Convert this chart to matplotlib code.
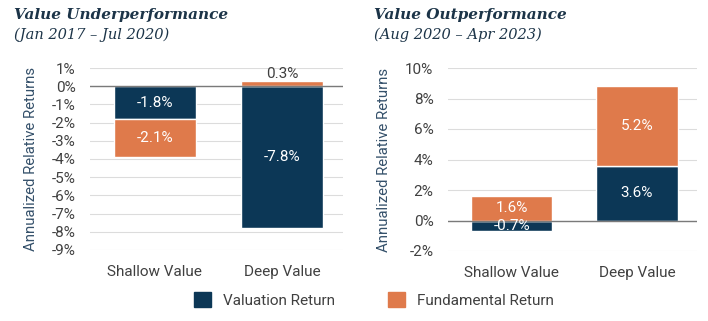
import matplotlib
matplotlib.use("Agg")
import matplotlib.pyplot as plt
from matplotlib.patches import Patch
from matplotlib import font_manager

categories = ["Shallow Value", "Deep Value"]
under_valuation = [-1.8, -7.8]
under_fundamental = [-2.1, 0.3]
out_valuation = [-0.7, 3.6]
out_fundamental = [1.6, 5.2]
under_ticks = [1, 0, -1, -2, -3, -4, -5, -6, -7, -8, -9]
out_ticks = [10, 8, 6, 4, 2, 0, -2]

NAVY = "#0c3756"
ORANGE = "#df7a4b"
TXT = "#404040"
TITLE_C = "#1c3448"

names = {f.name for f in font_manager.fontManager.ttflist}
sans = "Liberation Sans Narrow" if "Liberation Sans Narrow" in names else "Roboto"
plt.rcParams['font.family'] = [sans, 'DejaVu Sans']

fig = plt.figure(figsize=(7.08, 3.21), dpi=100)
axL = fig.add_axes([90/708, 1-250/321, 253/708, 182/321])
axR = fig.add_axes([448/708, 1-251/321, 249/708, 183/321])


def stack(ax, val, fund):
    x = list(range(len(categories)))
    ax.bar(x, val, width=0.65, color=NAVY, edgecolor="white", linewidth=1, zorder=3)
    bottoms = []
    for v, f in zip(val, fund):
        if (v >= 0) == (f >= 0):
            bottoms.append(v)
        else:
            bottoms.append(0)
    ax.bar(x, fund, bottom=bottoms, width=0.65, color=ORANGE, edgecolor="white", linewidth=1, zorder=3)
    for i, v in enumerate(val):
        ax.text(i, v / 2, f"{v:.1f}%", ha="center", va="center", color="white", fontsize=11, zorder=5)
    for i, (f, b) in enumerate(zip(fund, bottoms)):
        if abs(f) < 0.5:
            ax.text(i, b + f, f"{f:.1f}%", ha="center", va="bottom", color=TXT, fontsize=11, zorder=5)
        else:
            ax.text(i, b + f / 2, f"{f:.1f}%", ha="center", va="center", color="white", fontsize=11, zorder=5)
    ax.set_xticks(x)
    ax.set_xticklabels(categories, fontsize=11, color=TXT)
    ax.set_xlim(-0.51, 1.48)
    for s in ax.spines.values():
        s.set_visible(False)
    ax.tick_params(length=0, labelsize=11, labelcolor=TXT)
    ax.tick_params(axis="x", pad=11)
    ax.tick_params(axis="y", pad=10.5)
    ax.yaxis.grid(True, color="#dcdcdc", linewidth=0.8, zorder=0)
    ax.axhline(0, color="#7a7a7a", linewidth=1, zorder=4)
    ax.set_ylabel("Annualized Relative Returns", fontsize=10.7, color="#34506a", labelpad=10)


stack(axL, under_valuation, under_fundamental)
axL.set_yticks(under_ticks)
axL.set_yticklabels([f"{t}%" for t in under_ticks])
axL.set_ylim(-9, 1)

stack(axR, out_valuation, out_fundamental)
axR.set_yticks(out_ticks)
axR.set_yticklabels([f"{t}%" for t in out_ticks])
axR.set_ylim(-2, 10)

serif = ["DejaVu Serif"]
fig.text(14/708, 1-15/321, "Value Underperformance", fontsize=11, fontweight="bold", style="italic",
         family=serif, color=TITLE_C, va="center")
fig.text(14/708, 1-35/321, "(Jan 2017 \u2013 Jul 2020)", fontsize=10.5, style="italic",
         family=serif, color=TITLE_C, va="center")
fig.text(374/708, 1-15/321, "Value Outperformance", fontsize=11, fontweight="bold", style="italic",
         family=serif, color=TITLE_C, va="center")
fig.text(374/708, 1-35/321, "(Aug 2020 \u2013 Apr 2023)", fontsize=10.5, style="italic",
         family=serif, color=TITLE_C, va="center")

handles = [Patch(color=NAVY, label="Valuation Return"), Patch(color=ORANGE, label="Fundamental Return")]
fig.legend(handles=handles, loc="center", bbox_to_anchor=(374/708, 1-300/321), ncol=2, frameon=False,
           fontsize=11, handlelength=1.1, handleheight=1.1, columnspacing=3.5, handletextpad=0.8,
           labelcolor=TXT)

fig.savefig("out.png", dpi=100)
